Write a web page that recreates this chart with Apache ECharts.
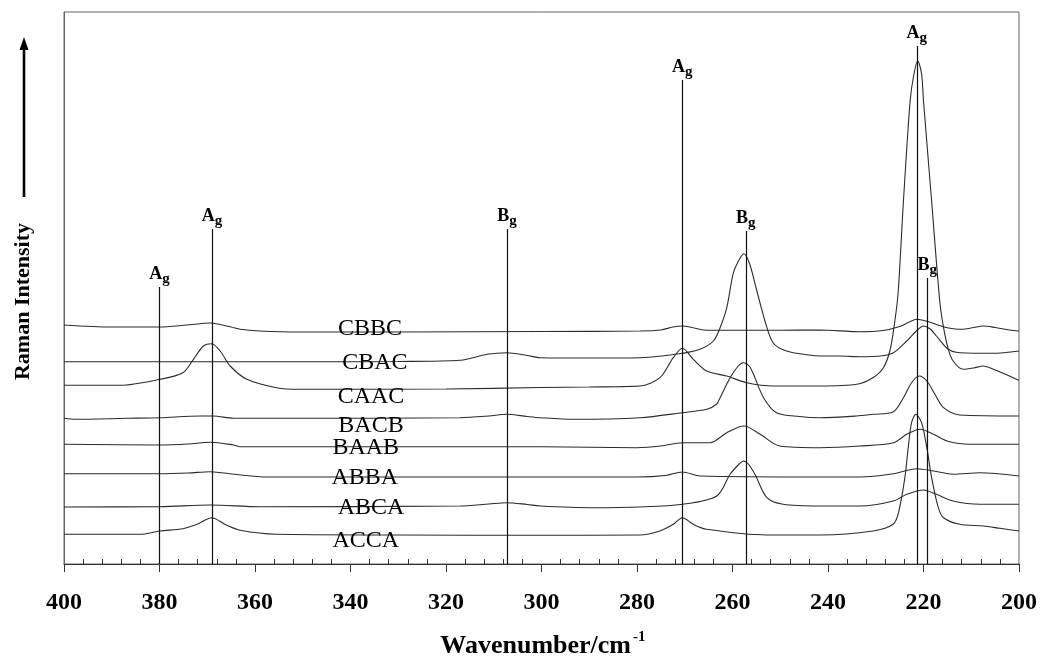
<!DOCTYPE html>
<html>
<head>
<meta charset="utf-8">
<script src="https://cdn.jsdelivr.net/npm/echarts@6/dist/echarts.min.js"></script>
<style>
  html, body { margin: 0; padding: 0; background: #fff; }
  #main { width: 1043px; height: 664px; }
</style>
</head>
<body>
<div id="main"></div>
<script>
// wavenumber (cm-1) vs. intensity (arbitrary units)
var cbbc = [[400,239],[390,237],[380,237],[374.3,239],[369.4,241],[365,237],[363.1,234.7],[359,233],[350.6,232],[330,232],[300,232.5],[279.4,233],[275,234],[272.5,237],[270.5,238],[268.5,236.5],[266,234],[262,233.7],[250,233.7],[241.7,234],[233.3,232.3],[228.5,233.5],[225,237.5],[223,242],[221.4,244.7],[219.5,243],[217,239],[215,236.3],[212,234.7],[209.5,236.5],[207.5,238],[205,236.5],[202,234],[200,233]];
var cbac = [[400,202.3],[380,202.3],[345,202.3],[330,202.5],[317,203.7],[311.4,209.7],[307.3,211.3],[303,208.5],[300.3,206.3],[290,206],[279.4,206.3],[274,208.5],[270.5,210.7],[266.8,214.7],[264,223],[262.6,236.3],[261.2,256.3],[259.8,291.3],[258.4,306],[257.6,310.3],[256.4,300],[255,275],[253.2,243],[251.5,221.3],[248.7,213],[244,209],[241.7,208],[237.5,208],[233.3,207.3],[229,208],[226.3,211.3],[223.5,223],[221.5,233],[220,238],[218.6,235],[217.3,228],[214.8,214.7],[212.4,211.3],[205.4,210.7],[200,213]];
var caac = [[400,178.7],[388.3,178.7],[379.9,184.7],[375.1,191.3],[372.9,204.7],[370.8,218],[369.1,220.3],[367.3,213],[365.2,198],[361.7,184.7],[355.5,176.3],[350.6,174.7],[320,175],[300.3,176.5],[290,177],[279.4,178],[275.2,186.3],[272.4,206.3],[270.5,215.7],[268.2,204.7],[265.4,193],[261.2,188],[257,181.3],[251.5,178],[241.7,178],[234,179.7],[230.6,186.3],[228.4,196.3],[227,214],[226,243],[225.3,272],[224.2,363],[222.8,463],[222,490],[221.2,503],[220.4,490],[220,463],[218.3,363],[216.6,263],[215.8,236.3],[214.8,214.7],[213.8,203],[211.7,194.7],[209.5,196],[207.5,198],[205,194],[202,188],[200,183.7]];
var bacb = [[400,145.7],[397.7,144.7],[386.9,145.7],[379.9,146.3],[371.5,148],[368.7,148],[364.5,145.7],[352,145.7],[317.1,146.3],[311,148],[307.3,149.7],[303,147.5],[300.3,146.3],[293.4,144.7],[279.4,146.3],[270.5,151.3],[265.4,154.7],[263.3,160],[262.6,166.3],[260.5,186.3],[258.8,198],[257.7,201.3],[256.5,198],[255.6,189.7],[253.5,166.3],[250.8,151.3],[246,147.5],[241.7,146.3],[234,148],[230.6,149.7],[226.4,152],[224.2,166.3],[222.5,181.3],[220.9,188],[219.3,183],[217.6,169.7],[215.8,156.3],[212.4,149],[200,148]];
var baab = [[400,119.7],[380,119],[374,120],[369.4,121.7],[364.5,119],[363.1,117.3],[350,117.3],[300,117.3],[280,116.3],[275,118],[270.5,121.3],[264.7,121.3],[261.2,131.3],[257.6,138],[254.2,129.7],[250.1,118],[241.7,116.3],[233.3,118],[226.3,121.3],[223.5,129.7],[220.7,134.7],[217.9,129.7],[215.1,123],[210.3,119.7],[200,119.7]];
var abba = [[400,90.3],[380,90.3],[374,91],[369.4,92.3],[364,89.5],[357.5,87],[300,87],[280,87],[274,88.5],[270.5,92],[266.8,88],[241.7,87],[233.3,87],[226.3,90.3],[221.4,95.3],[217.9,93],[213.8,89.7],[208.2,91.3],[200,88]];
var abca = [[400,57],[379.9,57.3],[369.4,59],[359,57.3],[317.1,58],[311,60],[307.3,61.3],[303,59.5],[300.3,58],[289.2,56.3],[279.4,57],[270.5,59.7],[263.3,68],[260.5,89.7],[258.6,100],[257.7,103],[256.7,100],[255.3,89.7],[252.8,66.3],[249.4,59.7],[241.7,58],[233.3,58],[226.3,63],[223.5,69.7],[220,74],[217.3,69.7],[213.8,63],[208.2,59.7],[200,59.7]];
var acca = [[400,29.7],[384.1,29.7],[379.9,33],[375.1,35.3],[372,40],[369.1,46.3],[366,39],[363.1,33.7],[355.5,29.7],[330,29],[300.3,28.7],[279.4,29],[275.2,33],[272.4,39.7],[270.5,46.3],[268.2,39.7],[265.4,34.7],[252.8,29],[241.7,29],[230.6,33],[226.3,40],[225.2,52],[223.9,86.3],[223.2,116.3],[222.5,141.3],[221.6,149.7],[220.4,141.3],[219.3,116.3],[218.3,86.3],[216.9,56.3],[215.8,46.3],[212.4,39.7],[207.5,38],[204,35.7],[200,33]];

var curveNames = ['CBBC', 'CBAC', 'CAAC', 'BACB', 'BAAB', 'ABBA', 'ABCA', 'ACCA'];
var curves = [cbbc, cbac, caac, bacb, baab, abba, abca, acca];
// where each curve name is written
var nameW = [335.9, 334.9, 335.7, 335.7, 336.8, 337.0, 335.7, 336.8];
var nameI = [235, 201.3, 167, 138, 116.3, 86.3, 56.3, 23];

// assigned bands: position, top of the marker line, symmetry letter
var bandPos = [380, 369, 307.2, 270.5, 257.2, 221.4, 219.2];
var bandTop = [277, 335, 335, 484, 333, 518, 286];
var bandSym = ['A', 'A', 'B', 'A', 'B', 'A', 'B'];

var serif = "'Liberation Serif', 'Times New Roman', serif";

var chart = echarts.init(document.getElementById('main'));

var series = curves.map(function (d, i) {
  return {
    name: curveNames[i],
    type: 'line',
    data: d,
    symbol: 'none',
    smooth: 0.3,
    silent: true,
    lineStyle: { color: '#2b2b2b', width: 1.1 },
    markPoint: {
      symbol: 'circle',
      symbolSize: 1,
      silent: true,
      itemStyle: { color: 'rgba(0,0,0,0)' },
      label: {
        show: true,
        position: 'inside',
        formatter: curveNames[i],
        color: '#000',
        fontFamily: serif,
        fontSize: 24
      },
      data: [{ coord: [nameW[i], nameI[i]] }]
    }
  };
});

series.push({
  name: 'bands',
  type: 'line',
  data: [],
  silent: true,
  markLine: {
    symbol: 'none',
    silent: true,
    lineStyle: { color: '#111', width: 1.2, type: 'solid' },
    label: {
      show: true,
      position: 'end',
      distance: 0,
      formatter: function (p) { return '{m|' + p.name + '}{s|g}'; },
      rich: {
        m: { fontFamily: serif, fontWeight: 'bold', fontSize: 18, lineHeight: 18, verticalAlign: 'top', color: '#000' },
        s: { fontFamily: serif, fontWeight: 'bold', fontSize: 15, lineHeight: 22, verticalAlign: 'bottom', color: '#000' }
      }
    },
    data: bandPos.map(function (w, i) {
      return [{ name: bandSym[i], coord: [w, 0] }, { coord: [w, bandTop[i]] }];
    })
  }
});

var option = {
  animation: false,
  grid: { left: 64, right: 24, top: 12, bottom: 100, outerBoundsMode: 'none', show: true, borderColor: '#666', borderWidth: 1 },
  xAxis: {
    type: 'value',
    min: 200,
    max: 400,
    interval: 20,
    inverse: true,
    axisLine: { lineStyle: { color: '#333', width: 1 } },
    axisTick: { show: true, length: 8, lineStyle: { color: '#333' } },
    minorTick: { show: true, splitNumber: 5, length: -5, lineStyle: { color: '#333' } },
    splitLine: { show: false },
    axisLabel: { margin: 27, color: '#000', fontFamily: serif, fontWeight: 'bold', fontSize: 24 }
  },
  yAxis: {
    type: 'value',
    min: 0,
    max: 552,
    name: 'Raman Intensity',
    nameLocation: 'middle',
    nameRotate: 90,
    nameGap: 30,
    nameTextStyle: { fontFamily: serif, fontWeight: 'bold', fontSize: 22, color: '#000', padding: [0, 27, 0, 0] },
    axisLine: { show: true, lineStyle: { color: '#666' } },
    axisTick: { show: false },
    axisLabel: { show: false },
    splitLine: { show: false }
  },
  graphic: [
    // x axis title with its superscript
    { type: 'text', x: 631, y: 646, style: { text: 'Wavenumber/cm', align: 'right', verticalAlign: 'middle', font: 'bold 26px ' + serif, fill: '#000' } },
    { type: 'text', x: 633, y: 637, style: { text: '-1', align: 'left', verticalAlign: 'middle', font: 'bold 15px ' + serif, fill: '#000' } },
    // intensity arrow
    { type: 'line', shape: { x1: 24, y1: 197, x2: 24, y2: 47 }, style: { stroke: '#000', lineWidth: 2.6 } },
    { type: 'polygon', shape: { points: [[24, 37], [19.5, 50], [28.5, 50]] }, style: { fill: '#000' } }
  ],
  series: series
};

chart.setOption(option);
</script>
</body>
</html>
